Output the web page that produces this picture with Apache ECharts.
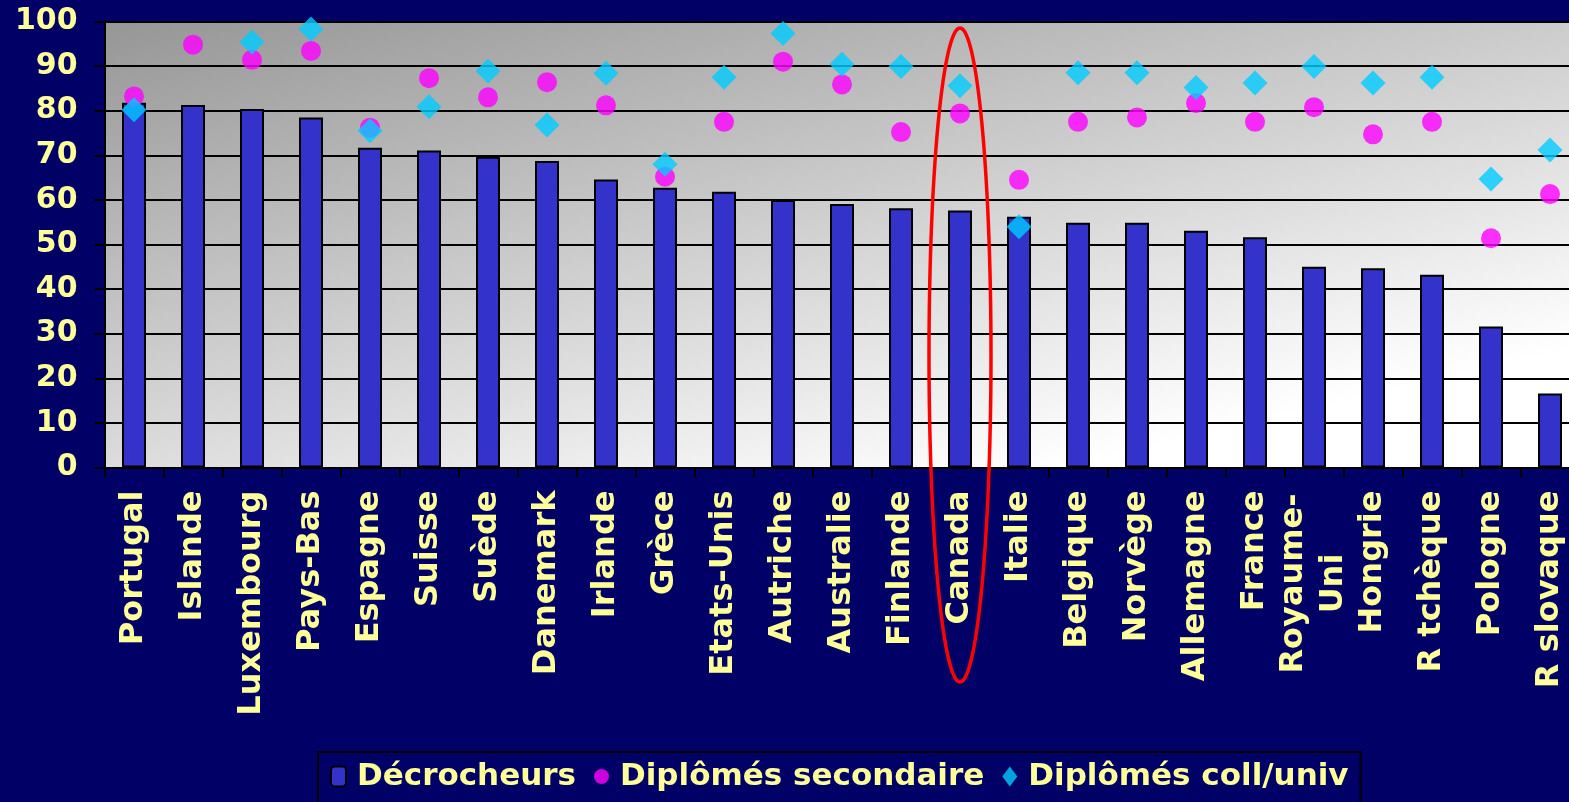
<!DOCTYPE html>
<html>
<head>
<meta charset="utf-8">
<script src="https://cdn.jsdelivr.net/npm/echarts@6/dist/echarts.min.js"></script>
<style>
html,body{margin:0;padding:0;background:#000066;overflow:hidden;width:1569px;height:802px;}
#c{width:1580px;height:802px;}
</style>
</head>
<body>
<div id="c"></div>
<script>
const categories = ['Portugal','Islande','Luxembourg','Pays-Bas','Espagne','Suisse','Suède','Danemark','Irlande','Grèce','Etats-Unis','Autriche','Australie','Finlande','Canada','Italie','Belgique','Norvège','Allemagne','France','Royaume-Uni','Hongrie','R tchèque','Pologne','R slovaque'];
const decrocheurs = [81.8,81.3,80.4,78.5,71.7,71.1,69.7,68.7,64.6,62.7,61.8,60.0,59.1,58.1,57.6,56.2,54.9,54.9,53.1,51.6,45.0,44.7,43.2,31.6,16.6];
const secondaire = [83.2,94.8,91.4,93.4,76.2,87.3,83.0,86.4,81.2,65.2,77.5,91.0,85.9,75.2,79.4,64.5,77.5,78.5,81.7,77.5,80.8,74.7,77.5,51.4,61.3];
const collUniv = [80.2,null,95.4,98.3,75.5,80.9,88.9,76.8,88.4,68.0,87.5,97.3,90.4,89.9,85.6,54.0,88.5,88.5,85.2,86.2,89.9,86.2,87.5,64.7,71.2];
const seriesNames = ['Décrocheurs','Diplômés secondaire','Diplômés coll/univ'];
const yMin = 0, yMax = 100, yStep = 10;
const highlighted = 'Canada';

const FONT = '"DejaVu Sans", Verdana, sans-serif';
const TXT = '#FFFF99';

const chart = echarts.init(document.getElementById('c'), null, {renderer:'canvas'});
chart.setOption({
  backgroundColor: '#000066',
  animation: false,
  grid: {
    left: 104.5, top: 21.5, right: 0.5, height: 446,
    show: true, borderWidth: 0,
    backgroundColor: {
      type: 'linear', x: 0, y: 0, x2: 0.1, y2: 1.42,
      colorStops: [{offset: 0, color: '#969696'}, {offset: 1, color: '#ffffff'}]
    }
  },
  legend: {
    data: seriesNames,
    left: 318, top: 752,
    padding: [9, 12, 12, 12],
    itemGap: 18, itemWidth: 15, itemHeight: 20,
    borderColor: '#000000', borderWidth: 2,
    backgroundColor: '#000066',
    textStyle: {color: TXT, fontSize: 31, fontWeight: 'bold', fontFamily: FONT, padding: [0,0,0,6]}
  },
  xAxis: {
    type: 'category', data: categories,
    axisLine: {show: true, lineStyle: {color: '#000', width: 2}},
    axisTick: {show: true, length: 10, alignWithLabel: false, interval: 0, lineStyle: {color: '#000', width: 2}},
    splitLine: {show: false},
    axisLabel: {
      interval: 0, rotate: 90, margin: 23,
      color: TXT, fontSize: 32, fontWeight: 'bold', fontFamily: FONT,
      formatter: function (v) {
        if (v === 'Royaume-Uni') return '{c|Royaume-}\n{c|Uni}';
        return v;
      },
      rich: {
        c: {width: 186, align: 'center', lineHeight: 40, color: TXT, fontSize: 32, fontWeight: 'bold', fontFamily: FONT}
      }
    }
  },
  yAxis: {
    type: 'value', min: yMin, max: yMax, interval: yStep,
    axisLine: {show: true, lineStyle: {color: '#000', width: 2}},
    axisTick: {show: true, length: 10, lineStyle: {color: '#000', width: 2}},
    splitLine: {show: true, lineStyle: {color: '#000', width: 2}},
    axisLabel: {margin: 27, color: TXT, fontSize: 30, fontWeight: 'bold', fontFamily: FONT, padding: [7,0,0,0]}
  },
  series: [
    {
      name: seriesNames[0], type: 'bar', data: decrocheurs, barWidth: 24,
      itemStyle: {color: '#3333CC', borderColor: '#000', borderWidth: 2}
    },
    {
      name: seriesNames[1], type: 'scatter', data: secondaire, symbol: 'circle', symbolSize: 20,
      itemStyle: {color: '#FF00FF'}, z: 3
    },
    {
      name: seriesNames[2], type: 'scatter', data: collUniv, symbol: 'diamond', symbolSize: 25,
      itemStyle: {color: '#00CCFF'}, z: 4
    }
  ]
});

// Red ellipse annotation around the highlighted category
const cx = chart.convertToPixel({xAxisIndex: 0}, highlighted);
const cy = 355, rx = 31, ry = 327;
const pts = [];
for (let i = 0; i <= 120; i++) {
  const a = i / 120 * Math.PI * 2;
  pts.push([cx + rx * Math.cos(a), cy + ry * Math.sin(a)]);
}
chart.setOption({
  graphic: [{
    type: 'polyline', shape: {points: pts}, z: 100,
    style: {stroke: '#FF0000', lineWidth: 3.5, fill: null}
  }]
});
</script>
</body>
</html>
